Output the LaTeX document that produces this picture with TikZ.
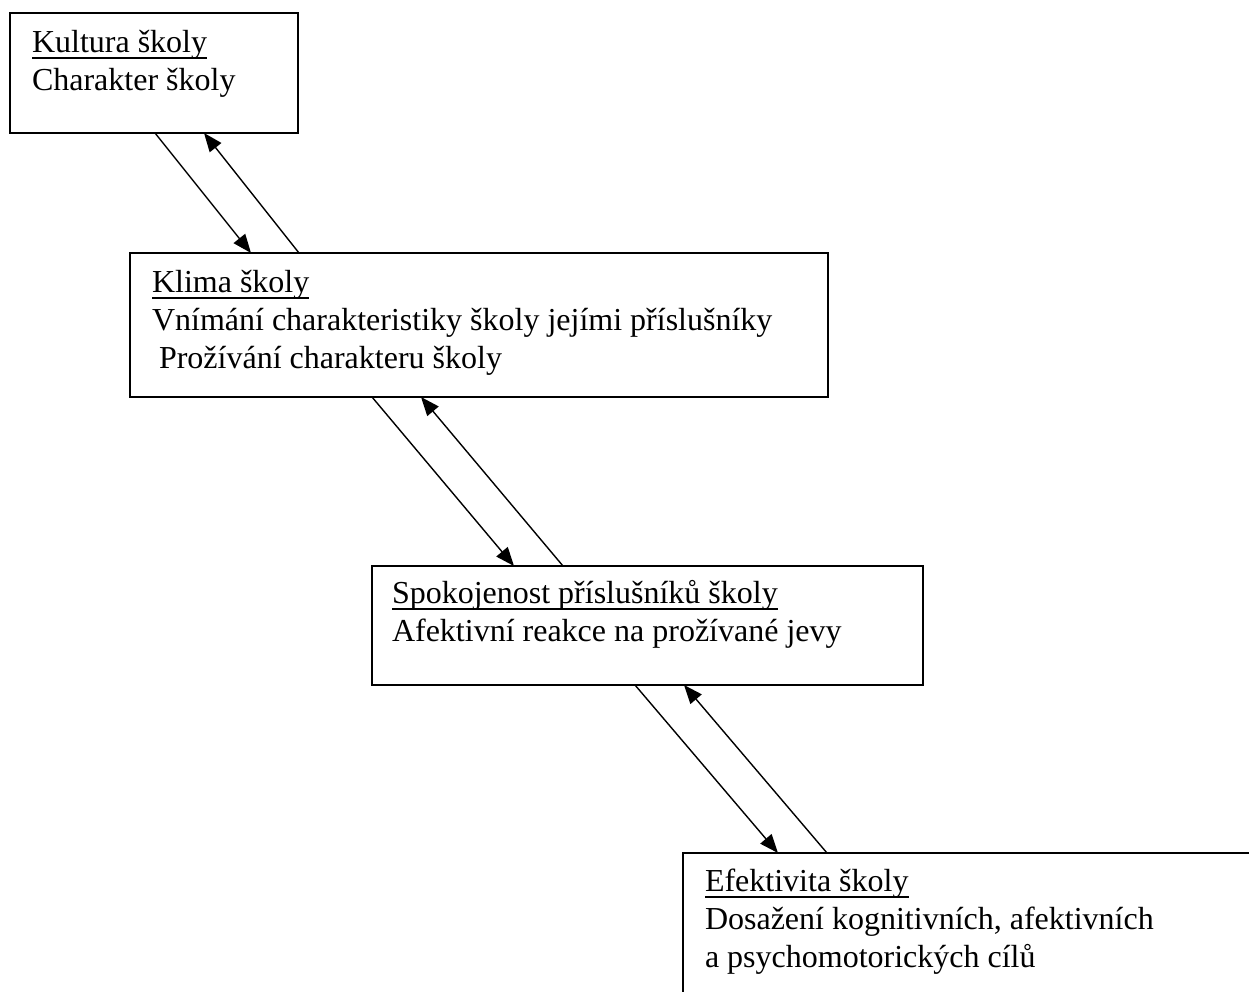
\documentclass[tikz,border=0pt]{standalone}
\usepackage{fontspec}
\setmainfont{Liberation Serif}
\usetikzlibrary{arrows.meta,calc}
\newcommand{\ulx}[1]{{\setbox0\hbox{#1}\rlap{\rule[-5.4pt]{\wd0}{1.5pt}}\box0}}
\begin{document}
\begin{tikzpicture}[x=0.75pt,y=-0.75pt,
  box/.style={draw,line width=1.35pt,outer sep=0pt,inner sep=0pt,anchor=north west},
  txt/.style={anchor=base west,inner sep=0pt,outer sep=0pt,font=\fontsize{24pt}{28.5pt}\selectfont},
  arr/.style={line width=1.05pt,-{Triangle[length=14pt,width=11pt]}}]
\useasboundingbox (0,0) rectangle (1249,992);
\clip (0,0) rectangle (1249,992);
% boxes
\node[box,minimum width=216pt,minimum height=90pt] (kultura) at (10,13) {};
\node[box,minimum width=523.5pt,minimum height=108pt] (klima) at (130,253) {};
\node[box,minimum width=413.25pt,minimum height=89.25pt] (spok) at (372,566) {};
\node[box,minimum width=440.25pt,minimum height=117.75pt] (efekt) at (683,853) {};
% texts
\node[txt] (t1a) at (32,52) {\ulx{Kultura školy}};
\node[txt] (t1b) at (32,90) {Charakter školy};
\node[txt] (t2a) at (152,292) {\ulx{Klima školy}};
\node[txt] (t2b) at (152,330) {Vnímání charakteristiky školy jejími příslušníky};
\node[txt] (t2c) at (159,368) {Prožívání charakteru školy};
\node[txt] (t3a) at (392,603) {\ulx{Spokojenost příslušníků školy}};
\node[txt] (t3b) at (392,641) {Afektivní reakce na prožívané jevy};
\node[txt] (t4a) at (705,891) {\ulx{Efektivita školy}};
\node[txt] (t4b) at (705,929) {Dosažení kognitivních, afektivních};
\node[txt] (t4c) at (705,967) {a psychomotorických cílů};
% arrows
\draw[arr] ($(kultura.south west)+(145,0)$) -- ($(klima.north west)+(121,0)$);
\draw[arr] ($(klima.north west)+(169,0)$) -- ($(kultura.south west)+(194,0)$);
\draw[arr] ($(klima.south west)+(242,0)$) -- ($(spok.north west)+(142,0)$);
\draw[arr] ($(spok.north west)+(191,0)$) -- ($(klima.south west)+(291,0)$);
\draw[arr] ($(spok.south west)+(263,0)$) -- ($(efekt.north west)+(95,0)$);
\draw[arr] ($(efekt.north west)+(144,0)$) -- ($(spok.south west)+(312,0)$);
\end{tikzpicture}
\end{document}
